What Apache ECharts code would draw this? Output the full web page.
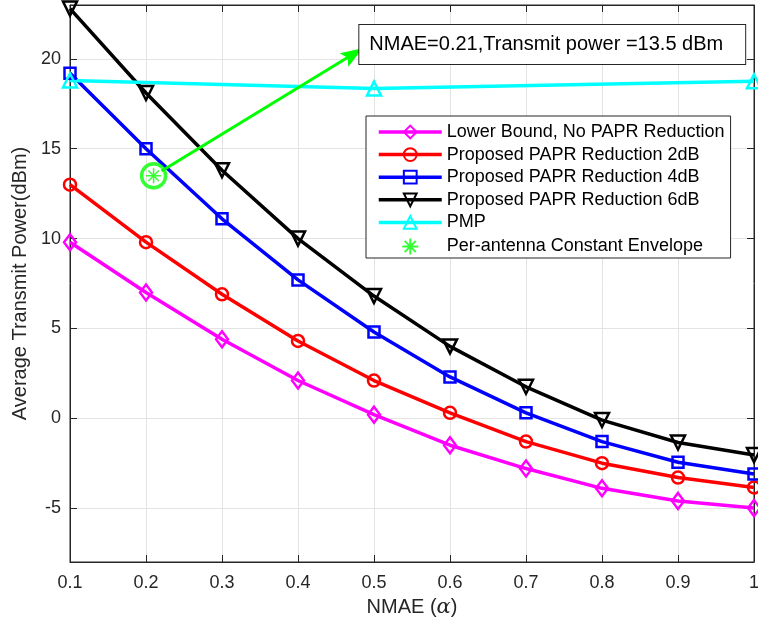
<!DOCTYPE html>
<html>
<head>
<meta charset="utf-8">
<script src="https://cdn.jsdelivr.net/npm/echarts@6/dist/echarts.min.js"></script>
<style>
  html, body { margin: 0; padding: 0; background: #fff; }
  #main { width: 758px; height: 626px; }
</style>
</head>
<body>
<div id="main"></div>
<script>
// 数据
var nmae = [0.1, 0.2, 0.3, 0.4, 0.5, 0.6, 0.7, 0.8, 0.9, 1.0];
var lowerBound = [9.8, 7.0, 4.4, 2.1, 0.2, -1.5, -2.8, -3.9, -4.6, -5.0];
var papr2dB = [13.0, 9.8, 6.9, 4.3, 2.1, 0.3, -1.3, -2.5, -3.3, -3.85];
var papr4dB = [19.2, 15.0, 11.1, 7.7, 4.8, 2.3, 0.3, -1.3, -2.45, -3.1];
var papr6dB = [22.8, 18.1, 13.8, 10.0, 6.8, 4.0, 1.75, -0.1, -1.35, -2.05];
var pmpX = [0.1, 0.5, 1.0];
var pmp = [18.8, 18.35, 18.75];
var ceX = [0.21];
var ce = [13.5];
var yTicks = [-5, 0, 5, 10, 15, 20];
// 标注箭头起点和终点
var arrowFrom = [0.2205, 13.76];
var arrowTo = [0.4728, 20.27];
var noteText = 'NMAE=0.21,Transmit power =13.5 dBm';

var FONT = 'Liberation Sans, Arial, Helvetica, sans-serif';
var AX = '#262626';
var GREEN = '#00ff00';

function pairs(xs, ys) {
    return xs.map(function (x, i) { return [x, ys[i]]; });
}

function lineSeries(name, xs, ys, color, symbol, size, rotate) {
    return {
        name: name,
        type: 'line',
        data: pairs(xs, ys),
        symbol: symbol,
        symbolSize: size,
        symbolRotate: rotate || 0,
        lineStyle: { color: color, width: 3.5 },
        itemStyle: { color: 'none', borderColor: color, borderWidth: 2.5 },
        emphasis: { disabled: true },
        z: 3
    };
}

var starPath = 'path://M0,-10L0,10M-10,0L10,0M-7,-7L7,7M-7,7L7,-7';
var arrowHead = 'path://M0,0L10,26L0,21L-10,26Z';
var blank = function () { return ''; };

var option = {
    animation: false,
    textStyle: { fontFamily: FONT },
    grid: {
        left: 70, right: 4, top: 5, bottom: 64, outerBoundsMode: 'none',
        show: true, borderColor: AX, borderWidth: 1, backgroundColor: 'transparent'
    },
    legend: {
        orient: 'vertical',
        left: 366,
        top: 116,
        width: 367,
        padding: [7, 6, 1, 11],
        itemWidth: 63,
        itemHeight: 16,
        itemGap: 4.6,
        backgroundColor: '#fff',
        borderColor: AX,
        borderWidth: 1,
        lineStyle: { width: 3.5 },
        textStyle: { fontSize: 18, color: '#000', fontFamily: FONT },
        data: ['Lower Bound, No PAPR Reduction', 'Proposed PAPR Reduction 2dB',
            'Proposed PAPR Reduction 4dB', 'Proposed PAPR Reduction 6dB', 'PMP',
            'Per-antenna Constant Envelope']
    },
    xAxis: [{
        type: 'value',
        min: 0.1,
        max: 1,
        interval: 0.1,
        name: 'NMAE ({a|α})',
        nameLocation: 'middle',
        nameGap: 34,
        nameTextStyle: {
            fontSize: 20, color: AX, fontFamily: FONT,
            rich: { a: { fontSize: 21, fontStyle: 'italic', fontFamily: 'DejaVu Serif, serif', color: AX } }
        },
        axisLine: { onZero: false, lineStyle: { color: AX, width: 1 } },
        axisTick: { show: true, inside: true, length: 7, lineStyle: { color: AX, width: 1 } },
        axisLabel: {
            fontSize: 18, color: AX, margin: 12,
            formatter: function (v) { return String(+v.toFixed(1)); }
        },
        splitLine: { show: true, lineStyle: { color: '#e3e3e3', width: 1 } }
    }, {
        type: 'value',
        position: 'top',
        min: 0.1,
        max: 1,
        interval: 0.1,
        axisLine: { show: true, onZero: false, lineStyle: { color: AX, width: 1 } },
        axisTick: { show: true, inside: true, length: 7, lineStyle: { color: AX, width: 1 } },
        axisLabel: { show: true, formatter: blank },
        splitLine: { show: false }
    }],
    yAxis: [{
        type: 'value',
        min: -8,
        max: 23,
        name: 'Average Transmit Power(dBm)',
        nameLocation: 'middle',
        nameGap: 32,
        nameTextStyle: { fontSize: 20, color: AX, fontFamily: FONT },
        axisLine: { show: true, onZero: false, lineStyle: { color: AX, width: 1 } },
        axisTick: { show: true, inside: true, length: 7, customValues: yTicks, lineStyle: { color: AX, width: 1 } },
        axisLabel: { fontSize: 18, color: AX, margin: 9, customValues: yTicks },
        splitLine: { show: true, lineStyle: { color: '#e3e3e3', width: 1 } }
    }, {
        type: 'value',
        position: 'right',
        min: -8,
        max: 23,
        axisLine: { show: true, onZero: false, lineStyle: { color: AX, width: 1 } },
        axisTick: { show: true, inside: true, length: 7, customValues: yTicks, lineStyle: { color: AX, width: 1 } },
        axisLabel: { show: true, customValues: yTicks, formatter: blank },
        splitLine: { show: false }
    }],
    series: [
        lineSeries('Lower Bound, No PAPR Reduction', nmae, lowerBound, '#ff00ff', 'diamond', [12, 16]),
        lineSeries('Proposed PAPR Reduction 2dB', nmae, papr2dB, '#ff0000', 'circle', 12),
        lineSeries('Proposed PAPR Reduction 4dB', nmae, papr4dB, '#0000ff', 'rect', 11),
        lineSeries('Proposed PAPR Reduction 6dB', nmae, papr6dB, '#000000', 'triangle', 14, 180),
        lineSeries('PMP', pmpX, pmp, '#00ffff', 'triangle', 14),
        {
            // 绿色圆圈 + 标注框，挂在顶部/右侧坐标轴上（范围相同）
            name: 'note',
            type: 'scatter',
            xAxisIndex: 1,
            yAxisIndex: 1,
            data: pairs(ceX, ce),
            symbol: 'circle',
            symbolSize: 24,
            itemStyle: { color: 'none', borderColor: GREEN, borderWidth: 3.5 },
            emphasis: { disabled: true },
            z: 4,
            markPoint: {
                silent: true,
                symbol: 'rect',
                symbolSize: 0,
                data: [{ coord: arrowTo }],
                label: {
                    show: true,
                    position: [6, -29],
                    align: 'left',
                    verticalAlign: 'top',
                    formatter: noteText,
                    fontSize: 20,
                    lineHeight: 21,
                    color: '#000',
                    fontFamily: FONT,
                    backgroundColor: '#fff',
                    borderColor: AX,
                    borderWidth: 1,
                    padding: [9, 22, 9, 10]
                }
            }
        },
        {
            // 箭头：线 + 旋转的箭头符号
            name: 'arrow',
            type: 'line',
            data: [arrowFrom, arrowTo],
            showSymbol: false,
            symbol: 'none',
            lineStyle: { color: GREEN, width: 3 },
            itemStyle: { color: GREEN },
            emphasis: { disabled: true },
            z: 6,
            markPoint: {
                silent: true,
                symbol: arrowHead,
                symbolSize: [16, 22],
                symbolRotate: -57.4,
                itemStyle: { color: GREEN },
                label: { show: false },
                data: [{ coord: arrowTo }]
            }
        },
        {
            name: 'Per-antenna Constant Envelope',
            type: 'scatter',
            data: pairs(ceX, ce),
            symbol: starPath,
            symbolSize: 15,
            itemStyle: { color: 'none', borderColor: GREEN, borderWidth: 1.5 },
            emphasis: { disabled: true },
            z: 6
        }
    ]
};

var chartDom = document.getElementById('main');
var myChart = echarts.init(chartDom);
myChart.setOption(option);
</script>
</body>
</html>
